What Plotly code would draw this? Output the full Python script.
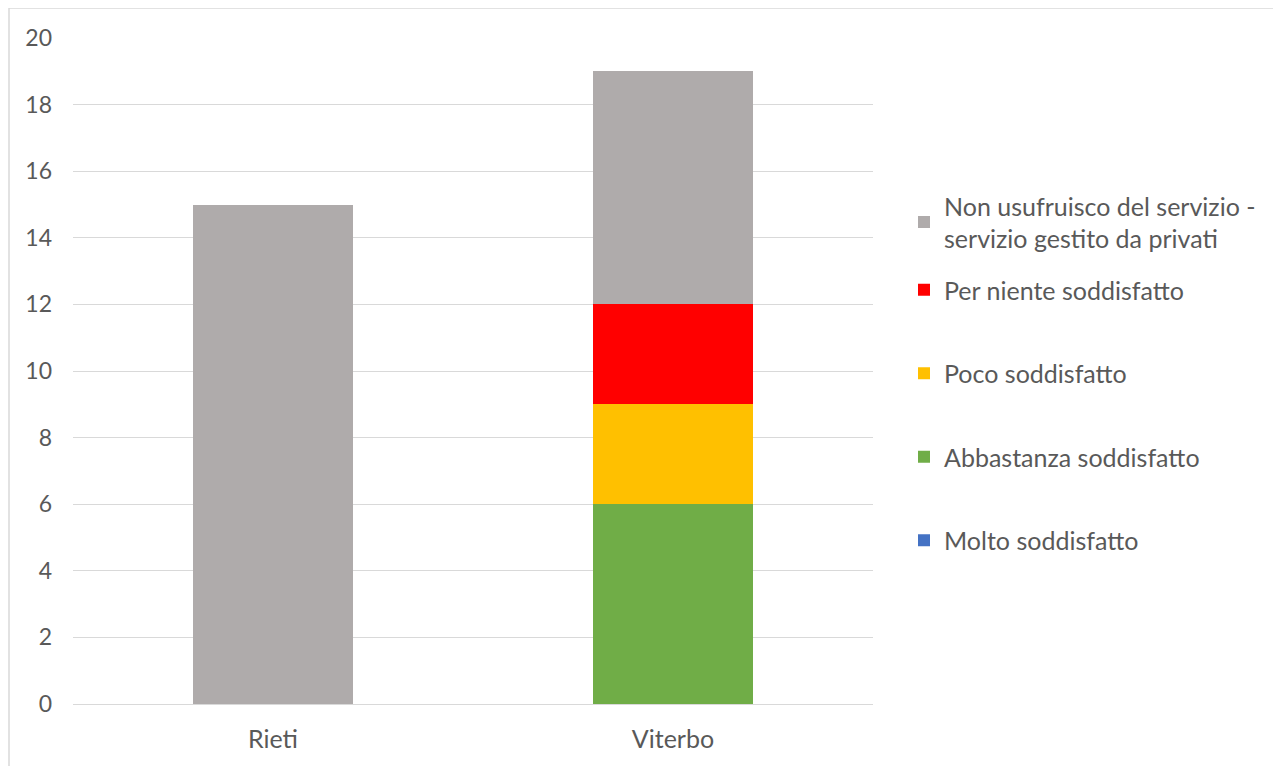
import plotly.graph_objects as go

categories = ["Rieti", "Viterbo"]
series_names = [
    "Molto soddisfatto",
    "Abbastanza soddisfatto",
    "Poco soddisfatto",
    "Per niente soddisfatto",
    "Non usufruisco del servizio -<br>servizio gestito da privati",
]
molto = [0, 0]
abbastanza = [0, 6]
poco = [0, 3]
per_niente = [0, 3]
non_usufruisco = [15, 7]
colors = ["#4472C4", "#70AD47", "#FFC000", "#FF0000", "#AFABAB"]
y_ticks = [0, 2, 4, 6, 8, 10, 12, 14, 16, 18, 20]

values = [molto, abbastanza, poco, per_niente, non_usufruisco]

fig = go.Figure()
n = len(series_names)
for i, (name, vals, col) in enumerate(zip(series_names, values, colors)):
    fig.add_trace(go.Bar(
        x=categories, y=vals, name=name, marker_color=col,
        marker_line_width=0, legendgroup=f"g{i}", legendrank=n - i,
        legend="legend2" if i == n - 1 else "legend",
    ))

# page body has 8px margin
OFF = 8
W, H = 1281 - OFF, 766 - OFF
L, R, T, B = 73 - OFF, 408, 38 - OFF, 62
pw, ph = W - L - R, H - T - B

def px_x(p):
    return (p - OFF - L) / pw

def px_y(p):
    return (H + OFF - B - p) / ph

legend_font = dict(size=25, color="#595959")

fig.update_layout(
    width=W, height=H,
    margin=dict(l=L, r=R, t=T, b=B),
    barmode="stack", bargap=0.6,
    plot_bgcolor="white", paper_bgcolor="white",
    font=dict(family="Lato, Open Sans, sans-serif", color="#595959"),
    xaxis=dict(showgrid=False, showline=False, ticks="", tickfont=dict(size=25),
               ticklabelstandoff=18),
    yaxis=dict(range=[0, 20], tickvals=y_ticks, showgrid=True, gridcolor="#D9D9D9",
               gridwidth=1, zeroline=True, zerolinecolor="#D9D9D9", zerolinewidth=1,
               tickfont=dict(size=23), ticks="", ticklabelstandoff=20),
    legend=dict(
        x=px_x(904), xanchor="left", y=px_y(267), yanchor="top",
        traceorder="grouped", tracegroupgap=48,
        font=legend_font, bgcolor="rgba(0,0,0,0)",
    ),
    legend2=dict(
        x=px_x(904), xanchor="left", y=px_y(183), yanchor="top",
        font=legend_font, bgcolor="rgba(0,0,0,0)",
    ),
    shapes=[dict(type="rect", xref="paper", yref="paper",
                 x0=px_x(9), x1=px_x(1400), y0=px_y(900), y1=px_y(8),
                 line=dict(color="#D9D9D9", width=1.5), fillcolor="rgba(0,0,0,0)",
                 layer="below")],
)

fig.write_html("out.html")
